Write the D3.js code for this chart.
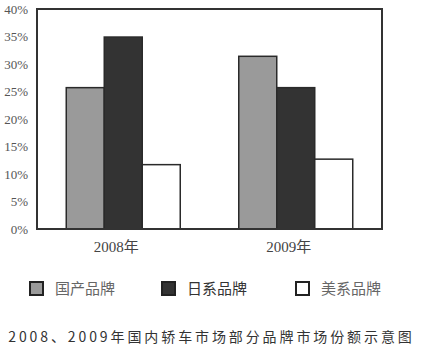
<!DOCTYPE html>
<html>
<head>
<meta charset="utf-8">
<script src="https://cdn.jsdelivr.net/npm/d3@7"></script>
<style>
  body { margin: 0; background: #fff; }
  svg { display: block; }
</style>
</head>
<body>
<div id="chart"></div>
<script>
// values (percent)
var years = ["2008年", "2009年"];
var brands = ["国产品牌", "日系品牌", "美系品牌"];
var domestic = [25.7, 31.4];
var japanese = [34.9, 25.7];
var american = [11.7, 12.7];
var yTicks = [0, 5, 10, 15, 20, 25, 30, 35, 40];
var title = "2008、2009年国内轿车市场部分品牌市场份额示意图";

var W = 423, H = 352;
var plot = {left: 37, right: 382, top: 9, bottom: 229};
var fills = ["#9a9a9a", "#333333", "#ffffff"];
var serif = "'Liberation Serif', 'Noto Sans CJK SC', serif";

var series = [domestic, japanese, american];

var svg = d3.select("#chart").append("svg")
    .attr("width", W).attr("height", H);

var x0 = d3.scaleBand().domain(years).range([plot.left, plot.right]);
var x1 = d3.scaleBand().domain(brands).range([0, x0.bandwidth()]).paddingOuter(0.77);
var y = d3.scaleLinear().domain([0, 40]).range([plot.bottom, plot.top]);

// y axis labels
var yAxis = d3.axisLeft(y).tickValues(yTicks).tickSize(0).tickPadding(9)
    .tickFormat(function(d) { return d + "%"; });
var ya = svg.append("g").attr("transform", "translate(" + plot.left + ",0)").call(yAxis);
ya.select(".domain").remove();
ya.selectAll("text").attr("font-family", serif).attr("font-size", 13).attr("fill", "#555");

// x axis labels
var xAxis = d3.axisBottom(x0).tickSize(0).tickPadding(12);
var xa = svg.append("g").attr("transform", "translate(-7," + plot.bottom + ")").call(xAxis);
xa.select(".domain").remove();
xa.selectAll("text").attr("font-family", serif).attr("font-size", 15).attr("fill", "#444");

// bars
years.forEach(function(yr, i) {
  var g = svg.append("g").attr("transform", "translate(" + x0(yr) + ",0)");
  g.selectAll("rect").data(brands).enter().append("rect")
    .attr("x", function(b) { return x1(b); })
    .attr("y", function(b, j) { return y(series[j][i]); })
    .attr("width", x1.bandwidth())
    .attr("height", function(b, j) { return plot.bottom - y(series[j][i]); })
    .attr("fill", function(b, j) { return fills[j]; })
    .attr("stroke", "#2a2a2a").attr("stroke-width", 1.5);
});

// plot frame
svg.append("rect")
  .attr("x", plot.left).attr("y", plot.top)
  .attr("width", plot.right - plot.left).attr("height", plot.bottom - plot.top)
  .attr("fill", "none").attr("stroke", "#333").attr("stroke-width", 2);

// legend
var legX = [30, 162, 296];
var leg = svg.append("g");
brands.forEach(function(b, j) {
  leg.append("rect").attr("x", legX[j]).attr("y", 282).attr("width", 13).attr("height", 13)
    .attr("fill", fills[j]).attr("stroke", "#222").attr("stroke-width", 2);
  leg.append("text").attr("x", legX[j] + 25).attr("y", 294)
    .attr("font-family", "'Noto Sans CJK SC', sans-serif").attr("font-size", 15)
    .attr("fill", j == 1 ? "#333" : "#666").text(b);
});

// caption
svg.append("text").attr("x", W / 2).attr("y", 342).attr("text-anchor", "middle")
  .attr("font-family", "'Noto Sans CJK SC', sans-serif").attr("font-size", 14)
  .attr("letter-spacing", 2.9).attr("fill", "#333").text(title);
</script>
</body>
</html>
